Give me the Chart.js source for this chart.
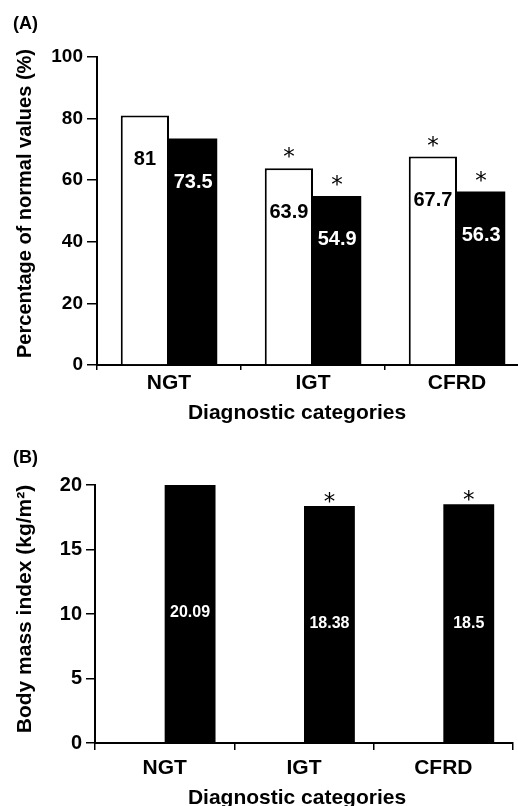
<!DOCTYPE html>
<html>
<head>
<meta charset="utf-8">
<script src="https://cdn.jsdelivr.net/npm/chart.js@4.4.1/dist/chart.umd.min.js"></script>
<style>
  html, body { margin: 0; padding: 0; overflow: hidden; background: #fff; }
  canvas { display: block; }
</style>
</head>
<body>
<canvas id="chartA" width="540" height="425"></canvas>
<canvas id="chartB" width="518" height="381"></canvas>
<script>
const categories = ["NGT", "IGT", "CFRD"];

// panel A: percentage of normal values
const pctWhite = [81, 63.9, 67.7];
const pctBlack = [73.5, 54.9, 56.3];
const starPctWhite = [false, true, true];
const starPctBlack = [false, true, true];
const pctTicks = [0, 20, 40, 60, 80, 100];

// panel B: body mass index
const bmiWhite = [0, 0, 0];
const bmiBlack = [20.09, 18.38, 18.5];
const starBmiBlack = [false, true, true];
const bmiTicks = [0, 5, 10, 15, 20];

const FONT = '"Liberation Sans", Arial, sans-serif';
const STAR = 23;
Chart.defaults.font.family = FONT;
Chart.defaults.color = '#000';

// panel letter, axis titles, values in the bars and the asterisks
const annotate = {
  id: 'annotate',
  afterDatasetsDraw(chart, args, opts) {
    const ctx = chart.ctx;
    ctx.save();
    ctx.fillStyle = '#000';
    ctx.textBaseline = 'middle';

    ctx.font = 'bold 18px ' + FONT;
    ctx.textAlign = 'left';
    ctx.fillText(opts.panel, 13, opts.panelY);

    ctx.font = `bold ${opts.yTitleSize}px ${FONT}`;
    ctx.textAlign = 'center';
    ctx.save();
    ctx.translate(25, opts.yTitleY);
    ctx.rotate(-Math.PI / 2);
    ctx.fillText(opts.yTitle, 0, 0);
    ctx.restore();

    ctx.font = 'bold 21px ' + FONT;
    ctx.fillText(opts.xTitle, 297, opts.xTitleY);

    chart.data.datasets.forEach((ds, i) => {
      const meta = chart.getDatasetMeta(i);
      meta.data.forEach((bar, j) => {
        if (ds.showValue) {
          ctx.font = `bold ${opts.valueSize}px ${FONT}`;
          ctx.fillStyle = ds.valueColor;
          ctx.textBaseline = 'middle';
          const y = opts.valueMid ? (bar.y + bar.base) / 2 : bar.y + opts.valueDrop;
          ctx.fillText(String(ds.data[j]), bar.x, y);
        }
        if (ds.stars && ds.stars[j]) {
          ctx.font = STAR + 'px "DejaVu Sans", sans-serif';
          ctx.fillStyle = '#000';
          ctx.textBaseline = 'alphabetic';
          ctx.fillText('*', bar.x, bar.y - opts.starGap + 0.57 * STAR);
        }
      });
    });
    ctx.restore();
  }
};

const makeOptions = (ticks, max, yWidth, xHeight, tickSize, xTickLen, xTickPad, yTickLen, extra) => ({
  responsive: false,
  animation: false,
  layout: { padding: extra.padding },
  scales: {
    x: {
      offset: true,
      border: { color: '#000', width: 2 },
      grid: { offset: true, drawOnChartArea: false, color: '#000', lineWidth: 1.5, tickLength: xTickLen },
      ticks: { font: { size: 21, weight: 'bold' }, padding: xTickPad, color: '#000' },
      afterFit: s => { s.height = xHeight; }
    },
    y: {
      min: 0,
      max: max,
      border: { color: '#000', width: 2 },
      grid: { drawOnChartArea: false, color: '#000', lineWidth: 1.5, tickLength: yTickLen },
      ticks: { font: { size: tickSize, weight: 'bold' }, padding: 4, color: '#000' },
      afterBuildTicks: s => { s.ticks = ticks.map(v => ({ value: v })); },
      afterFit: s => { s.width = yWidth; }
    }
  },
  plugins: {
    legend: { display: false },
    tooltip: { enabled: false },
    annotate: extra.annotate
  }
});

new Chart(document.getElementById('chartA'), {
  type: 'bar',
  data: {
    labels: categories,
    datasets: [{
      data: pctWhite,
      backgroundColor: '#fff',
      borderColor: '#000',
      borderWidth: 2,
      categoryPercentage: 0.67,
      barPercentage: 1,
      showValue: true,
      valueColor: '#000',
      stars: starPctWhite
    }, {
      data: pctBlack,
      backgroundColor: '#000',
      borderColor: '#000',
      borderWidth: 0,
      categoryPercentage: 0.67,
      barPercentage: 1,
      showValue: true,
      valueColor: '#fff',
      stars: starPctBlack
    }]
  },
  options: makeOptions(pctTicks, 100, 97, 60, 19, 5, 1, 10, {
    padding: { top: 57, right: 11, left: 0, bottom: 0 },
    annotate: {
      panel: '(A)', panelY: 24.5,
      yTitle: 'Percentage of normal values (%)', yTitleY: 203.5, yTitleSize: 20,
      xTitle: 'Diagnostic categories', xTitleY: 413.5,
      valueSize: 20, valueDrop: 44, valueMid: false, starGap: 17
    }
  }),
  plugins: [annotate]
});

new Chart(document.getElementById('chartB'), {
  type: 'bar',
  data: {
    labels: categories,
    datasets: [{
      data: bmiWhite,
      backgroundColor: '#fff',
      borderColor: '#000',
      borderWidth: 0,
      categoryPercentage: 0.73,
      barPercentage: 1
    }, {
      data: bmiBlack,
      backgroundColor: '#000',
      borderWidth: 0,
      categoryPercentage: 0.73,
      barPercentage: 1,
      showValue: true,
      valueColor: '#fff',
      stars: starBmiBlack
    }]
  },
  options: makeOptions(bmiTicks, 20, 95, 63, 20, 7, 6, 9, {
    padding: { top: 60, right: 5, left: 0, bottom: 0 },
    annotate: {
      panel: '(B)', panelY: 33,
      yTitle: 'Body mass index (kg/m\u00B2)', yTitleY: 184, yTitleSize: 21,
      xTitle: 'Diagnostic categories', xTitleY: 373.5,
      valueSize: 16, valueDrop: 0, valueMid: true, starGap: 10.5
    }
  }),
  plugins: [annotate]
});
</script>
</body>
</html>
